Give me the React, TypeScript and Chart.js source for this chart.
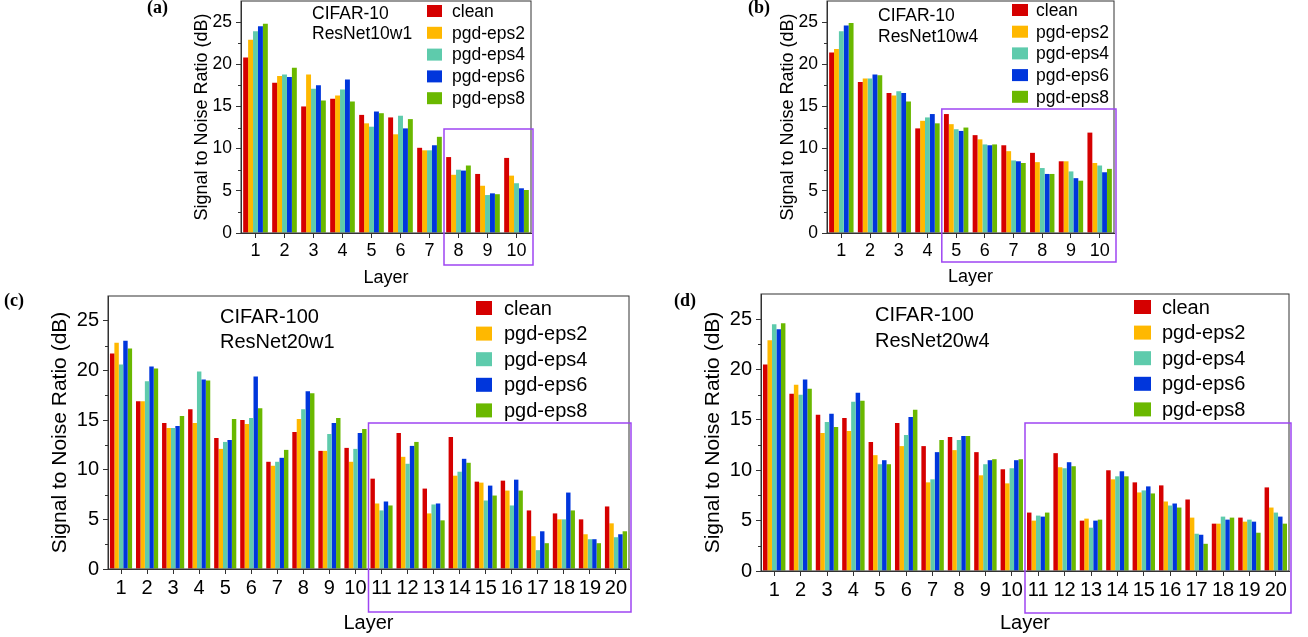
import React, { useEffect, useRef } from 'react';
import { Chart, registerables } from 'chart.js';
Chart.register(...registerables);

const LAYERS_10 = ['1', '2', '3', '4', '5', '6', '7', '8', '9', '10'];
const LAYERS_20 = ['1', '2', '3', '4', '5', '6', '7', '8', '9', '10', '11', '12', '13', '14', '15', '16', '17', '18', '19', '20'];
const SERIES_NAMES = ['clean', 'pgd-eps2', 'pgd-eps4', 'pgd-eps6', 'pgd-eps8'];
const SERIES_COLORS = ['#D50000', '#FFB800', '#5ECBAC', '#0036DC', '#6AB800'];
const Y_TITLE = 'Signal to Noise Ratio (dB)';
const X_TITLE = 'Layer';

// (a) CIFAR-10 ResNet10w1
const A_CLEAN = [20.8, 17.8, 15.0, 15.9, 14.0, 13.7, 10.1, 9.0, 7.0, 8.9];
const A_EPS2 = [22.9, 18.6, 18.8, 16.3, 13.0, 11.7, 9.8, 6.9, 5.6, 6.8];
const A_EPS4 = [23.9, 18.8, 17.1, 17.0, 12.6, 13.9, 9.8, 7.5, 4.5, 5.9];
const A_EPS6 = [24.5, 18.5, 17.5, 18.2, 14.4, 12.4, 10.4, 7.4, 4.7, 5.3];
const A_EPS8 = [24.8, 19.6, 15.7, 15.6, 14.2, 13.5, 11.4, 8.0, 4.6, 5.1];

// (b) CIFAR-10 ResNet10w4
const B_CLEAN = [21.4, 17.9, 16.6, 12.4, 14.1, 11.6, 10.4, 9.5, 8.5, 11.9];
const B_EPS2 = [21.8, 18.3, 16.3, 13.3, 12.9, 11.1, 9.7, 8.4, 8.5, 8.3];
const B_EPS4 = [23.9, 18.3, 16.8, 13.7, 12.3, 10.5, 8.6, 7.7, 7.3, 8.0];
const B_EPS6 = [24.6, 18.8, 16.6, 14.1, 12.1, 10.4, 8.5, 7.0, 6.5, 7.2];
const B_EPS8 = [24.9, 18.7, 15.6, 13.0, 12.5, 10.5, 8.3, 7.0, 6.2, 7.6];

// (c) CIFAR-100 ResNet20w1
const C_CLEAN = [21.7, 16.9, 14.7, 16.1, 13.2, 15.0, 10.8, 13.8, 11.9, 12.2, 9.1, 13.7, 8.1, 13.3, 8.8, 8.9, 5.9, 5.6, 5.0, 6.3];
const C_EPS2 = [22.8, 16.9, 14.2, 14.7, 12.1, 14.6, 10.4, 15.1, 11.9, 10.8, 6.6, 11.3, 5.6, 9.4, 8.7, 7.9, 3.3, 5.0, 3.5, 4.6];
const C_EPS4 = [20.6, 18.9, 14.2, 19.9, 12.8, 15.2, 10.8, 16.1, 13.6, 12.1, 5.9, 10.6, 6.5, 9.8, 6.9, 6.4, 1.9, 5.0, 3.0, 3.2];
const C_EPS6 = [23.0, 20.4, 14.4, 19.1, 13.0, 19.4, 11.2, 17.9, 14.7, 13.7, 6.8, 12.4, 6.6, 11.1, 8.4, 9.0, 3.8, 7.7, 3.0, 3.5];
const C_EPS8 = [22.2, 20.2, 15.4, 19.0, 15.1, 16.2, 12.0, 17.7, 15.2, 14.1, 6.4, 12.8, 4.9, 10.7, 7.4, 7.9, 2.6, 5.9, 2.6, 3.8];

// (d) CIFAR-100 ResNet20w4
const D_CLEAN = [20.5, 17.6, 15.5, 15.2, 12.8, 14.7, 12.4, 13.3, 11.8, 10.1, 5.8, 11.7, 5.0, 10.0, 8.8, 8.5, 7.1, 4.7, 5.3, 8.3];
const D_EPS2 = [22.9, 18.5, 13.7, 13.9, 11.5, 12.4, 8.8, 12.0, 9.5, 8.7, 5.0, 10.3, 5.2, 9.1, 7.8, 6.9, 5.3, 4.7, 4.9, 6.3];
const D_EPS4 = [24.5, 17.5, 14.8, 16.8, 10.6, 13.5, 9.1, 13.0, 10.6, 10.2, 5.5, 10.2, 4.3, 9.4, 8.0, 6.5, 3.7, 5.4, 5.1, 5.8];
const D_EPS6 = [24.0, 19.0, 15.6, 17.7, 11.0, 15.3, 11.8, 13.4, 11.0, 11.0, 5.4, 10.8, 5.0, 9.9, 8.4, 6.7, 3.6, 5.1, 4.9, 5.4];
const D_EPS8 = [24.6, 18.1, 14.3, 16.9, 10.6, 16.0, 13.0, 13.4, 11.1, 11.1, 5.8, 10.4, 5.1, 9.4, 7.7, 6.3, 2.7, 5.3, 3.8, 4.7];

const SANS = '"Liberation Sans", Arial, Helvetica, sans-serif';
const SERIF = '"Liberation Serif", "Times New Roman", serif';
const W = 1308;
const H = 637;

const PANELS = [
  {
    key: 'a', label: '(a)', labelX: 147, labelY: 8,
    note1: 'CIFAR-10', note2: 'ResNet10w1',
    categories: LAYERS_10, series: [A_CLEAN, A_EPS2, A_EPS4, A_EPS6, A_EPS8],
    area: { l: 241, t: 1, r: 531, b: 233 }, yTitleLeft: 191, xTitleBottom: 289,
    yTitleFont: 18, xTitleFont: 18, yTickFont: 17.5, xTickFont: 18,
    legend: { sqX: 427, sqW: 15, sqH: 12, textX: 452, y0: 11, dy: 21.8, font: 17.5 },
    note: { x: 312, y1: 14, y2: 34, font: 17.5 },
    box: { startIdx: 7, top: 129, bottom: 265 },
  },
  {
    key: 'b', label: '(b)', labelX: 748, labelY: 8,
    note1: 'CIFAR-10', note2: 'ResNet10w4',
    categories: LAYERS_10, series: [B_CLEAN, B_EPS2, B_EPS4, B_EPS6, B_EPS8],
    area: { l: 827, t: 1, r: 1114, b: 233 }, yTitleLeft: 777, xTitleBottom: 288,
    yTitleFont: 18, xTitleFont: 18, yTickFont: 17.5, xTickFont: 18,
    legend: { sqX: 1012, sqW: 16, sqH: 12, textX: 1036, y0: 10, dy: 21.7, font: 17.5 },
    note: { x: 878, y1: 16, y2: 37, font: 17.5 },
    box: { startIdx: 4, top: 109, bottom: 262 },
  },
  {
    key: 'c', label: '(c)', labelX: 4, labelY: 301,
    note1: 'CIFAR-100', note2: 'ResNet20w1',
    categories: LAYERS_20, series: [C_CLEAN, C_EPS2, C_EPS4, C_EPS6, C_EPS8],
    area: { l: 108, t: 296, r: 629, b: 569 }, yTitleLeft: 48, xTitleBottom: 635,
    yTitleFont: 21, xTitleFont: 20, yTickFont: 20, xTickFont: 20,
    legend: { sqX: 476, sqW: 16, sqH: 14, textX: 504, y0: 308, dy: 25.6, font: 20 },
    note: { x: 220, y1: 317, y2: 342, font: 20 },
    box: { startIdx: 10, top: 423, bottom: 612 },
  },
  {
    key: 'd', label: '(d)', labelX: 674, labelY: 301,
    note1: 'CIFAR-100', note2: 'ResNet20w4',
    categories: LAYERS_20, series: [D_CLEAN, D_EPS2, D_EPS4, D_EPS6, D_EPS8],
    area: { l: 761, t: 294, r: 1289, b: 571 }, yTitleLeft: 701, xTitleBottom: 635,
    yTitleFont: 21, xTitleFont: 20, yTickFont: 20, xTickFont: 20,
    legend: { sqX: 1134, sqW: 17, sqH: 14, textX: 1162, y0: 307, dy: 25.6, font: 20 },
    note: { x: 875, y1: 315, y2: 341, font: 20 },
    box: { startIdx: 10, top: 423, bottom: 613 },
  },
];

type Panel = typeof PANELS[number];

function makeDecor(p: Panel) {
  return {
    id: 'decor_' + p.key,
    afterDraw(chart: any) {
      const ctx = chart.ctx as CanvasRenderingContext2D;
      const ca = chart.chartArea;
      const y = chart.scales.y;
      const x = chart.scales.x;
      ctx.save();
      // frame
      ctx.strokeStyle = '#333';
      ctx.lineWidth = 1;
      ctx.strokeRect(ca.left, ca.top, ca.right - ca.left, ca.bottom - ca.top);
      // minor ticks
      ctx.beginPath();
      for (let v = 2.5; v < 27.5; v += 5) {
        const py = Math.round(y.getPixelForValue(v)) + 0.5;
        ctx.moveTo(ca.left - 3, py);
        ctx.lineTo(ca.left, py);
      }
      ctx.stroke();
      // highlight box
      const n = p.categories.length;
      const half = (x.getPixelForValue(1) - x.getPixelForValue(0)) / 2;
      const bx0 = x.getPixelForValue(p.box.startIdx) - half;
      const bx1 = x.getPixelForValue(n - 1) + half + 2;
      ctx.strokeStyle = '#9E45F2';
      ctx.lineWidth = 1.5;
      ctx.strokeRect(bx0, p.box.top, bx1 - bx0, p.box.bottom - p.box.top);
      // legend
      ctx.textBaseline = 'middle';
      ctx.textAlign = 'left';
      ctx.fillStyle = '#000';
      ctx.font = `${p.legend.font}px ${SANS}`;
      chart.data.datasets.forEach((ds: any, i: number) => {
        const cy = p.legend.y0 + i * p.legend.dy;
        ctx.fillStyle = ds.backgroundColor;
        ctx.fillRect(p.legend.sqX, cy - p.legend.sqH / 2, p.legend.sqW, p.legend.sqH);
        ctx.fillStyle = '#000';
        ctx.fillText(ds.label, p.legend.textX, cy + 1);
      });
      // notes
      ctx.font = `${p.note.font}px ${SANS}`;
      ctx.fillText(p.note1, p.note.x, p.note.y1);
      ctx.fillText(p.note2, p.note.x, p.note.y2);
      // panel label
      ctx.font = `bold 18px ${SERIF}`;
      ctx.fillText(p.label, p.labelX, p.labelY);
      ctx.restore();
    },
  };
}

function PanelChart({ p }: { p: Panel }) {
  const ref = useRef<HTMLCanvasElement | null>(null);
  useEffect(() => {
    if (!ref.current) return;
    const yAxisWidth = p.area.l - p.yTitleLeft;
    const xAxisHeight = p.xTitleBottom - p.area.b;
    const chart = new Chart(ref.current, {
      type: 'bar',
      data: {
        labels: p.categories,
        datasets: p.series.map((s, i) => ({
          label: SERIES_NAMES[i],
          data: s,
          backgroundColor: SERIES_COLORS[i],
          borderWidth: 0,
          categoryPercentage: 0.85,
          barPercentage: 1.0,
        })),
      },
      options: {
        responsive: false,
        animation: false,
        devicePixelRatio: 1,
        layout: {
          padding: { left: p.yTitleLeft, top: p.area.t, right: W - p.area.r, bottom: H - p.xTitleBottom },
        },
        plugins: { legend: { display: false }, tooltip: { enabled: false } },
        scales: {
          x: {
            offset: true,
            grid: { offset: false, drawOnChartArea: false, tickLength: 5, color: '#333' },
            border: { color: '#333', width: 1 },
            ticks: { font: { family: SANS, size: p.xTickFont }, color: '#000', padding: 2, maxRotation: 0, autoSkip: false },
            title: { display: true, text: X_TITLE, font: { family: SANS, size: p.xTitleFont }, color: '#000', padding: 0 },
            afterFit: (s: any) => { s.height = xAxisHeight; s.paddingLeft = 0; s.paddingRight = 0; },
          },
          y: {
            min: 0,
            max: 27.5,
            grid: { drawOnChartArea: false, tickLength: 5, color: '#333' },
            border: { color: '#333', width: 1 },
            ticks: { stepSize: 5, includeBounds: false, font: { family: SANS, size: p.yTickFont }, color: '#000', padding: 4 },
            title: { display: true, text: Y_TITLE, font: { family: SANS, size: p.yTitleFont }, color: '#000', padding: 0 },
            afterFit: (s: any) => { s.width = yAxisWidth; s.paddingTop = 0; s.paddingBottom = 0; },
          },
        },
      } as any,
      plugins: [makeDecor(p)],
    });
    return () => chart.destroy();
  }, [p]);
  return <canvas ref={ref} width={W} height={H} style={{ position: 'absolute', left: 0, top: 0, width: W, height: H }} />;
}

export default function App() {
  return (
    <div style={{ position: 'fixed', left: 0, top: 0, width: W, height: H, background: '#fff', overflow: 'hidden' }}>
      {PANELS.map((p) => (
        <PanelChart key={p.key} p={p} />
      ))}
    </div>
  );
}
